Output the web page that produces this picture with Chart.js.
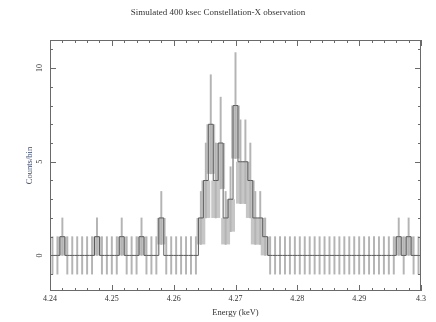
<!DOCTYPE html>
<html>
<head>
<meta charset="utf-8">
<script src="https://cdn.jsdelivr.net/npm/chart.js@4.4.0/dist/chart.umd.min.js"></script>
<style>
  body { margin: 0; background: #fff; }
  canvas { display: block; }
</style>
</head>
<body>
<canvas id="spectrum" width="436" height="322"></canvas>
<script>
// bin centres (keV), 0.8 eV bins
const energies = [
  4.2404, 4.2412, 4.2420, 4.2428, 4.2436, 4.2444, 4.2452, 4.2460, 4.2468, 4.2476,
  4.2484, 4.2492, 4.2500, 4.2508, 4.2516, 4.2524, 4.2532, 4.2540, 4.2548, 4.2556,
  4.2564, 4.2572, 4.2580, 4.2588, 4.2596, 4.2604, 4.2612, 4.2620, 4.2628, 4.2636,
  4.2644, 4.2652, 4.2660, 4.2668, 4.2676, 4.2684, 4.2692, 4.2700, 4.2708, 4.2716,
  4.2724, 4.2732, 4.2740, 4.2748, 4.2756, 4.2764, 4.2772, 4.2780, 4.2788, 4.2796,
  4.2804, 4.2812, 4.2820, 4.2828, 4.2836, 4.2844, 4.2852, 4.2860, 4.2868, 4.2876,
  4.2884, 4.2892, 4.2900, 4.2908, 4.2916, 4.2924, 4.2932, 4.2940, 4.2948, 4.2956,
  4.2964, 4.2972, 4.2980, 4.2988, 4.2996
];
// counts per bin
const counts = [
  0, 0, 1, 0, 0, 0, 0, 0, 0, 1,
  0, 0, 0, 0, 1, 0, 0, 0, 1, 0,
  0, 0, 2, 0, 0, 0, 0, 0, 0, 0,
  2, 4, 7, 4, 6, 2, 3, 8, 5, 5,
  4, 2, 2, 1, 0, 0, 0, 0, 0, 0,
  0, 0, 0, 0, 0, 0, 0, 0, 0, 0,
  0, 0, 0, 0, 0, 0, 0, 0, 0, 0,
  1, 0, 1, 0, 0
];
const xTicks = [4.24, 4.25, 4.26, 4.27, 4.28, 4.29, 4.30];
const xTickLabels = ['4.24', '4.25', '4.26', '4.27', '4.28', '4.29', '4.3'];
const yTicks = [0, 5, 10];
const yTickLabels = ['0', '5', '10'];

// poisson errors, empty bins get +/-1
const sigma = counts.map(n => n > 0 ? Math.sqrt(n) : 1);

const serif = '"Liberation Serif", "DejaVu Serif", serif';

const frame = {
  id: 'frame',
  afterDatasetsDraw(chart) {
    const { ctx, chartArea: a, scales: { x, y } } = chart;
    ctx.save();
    ctx.strokeStyle = '#6a6a6a';
    ctx.lineWidth = 1;
    ctx.strokeRect(a.left + 0.5, a.top + 0.5, a.width - 1, a.height - 1);

    ctx.beginPath();
    // x ticks, top and bottom, minor every 2 eV
    for (let k = 0; k <= 30; k++) {
      const px = Math.round(x.getPixelForValue(4.24 + k * 0.002)) + 0.5;
      const len = k % 5 === 0 ? 6 : 3;
      ctx.moveTo(px, a.bottom); ctx.lineTo(px, a.bottom - len);
      ctx.moveTo(px, a.top); ctx.lineTo(px, a.top + len);
    }
    // y ticks, left and right, minor every count
    for (let v = -1; v <= 11; v++) {
      const py = Math.round(y.getPixelForValue(v)) + 0.5;
      const len = v % 5 === 0 ? 6 : 3;
      ctx.moveTo(a.left, py); ctx.lineTo(a.left + len, py);
      ctx.moveTo(a.right, py); ctx.lineTo(a.right - len, py);
    }
    ctx.stroke();

    ctx.fillStyle = '#333';
    ctx.font = '8px ' + serif;
    ctx.textAlign = 'center';
    ctx.textBaseline = 'middle';
    xTicks.forEach((v, i) => {
      ctx.fillText(xTickLabels[i], x.getPixelForValue(v), a.bottom + 8);
    });
    yTicks.forEach((v, i) => {
      ctx.save();
      ctx.translate(a.left - 10, y.getPixelForValue(v));
      ctx.rotate(-Math.PI / 2);
      ctx.fillText(yTickLabels[i], 0, 0);
      ctx.restore();
    });

    ctx.font = '8.5px ' + serif;
    ctx.fillText('Energy (keV)', (a.left + a.right) / 2, a.bottom + 22);
    ctx.font = '9px ' + serif;
    ctx.fillText('Simulated 400 ksec Constellation-X observation', 218, 13);

    ctx.font = '8.5px ' + serif;
    ctx.fillStyle = '#3e4c6e';
    ctx.save();
    ctx.translate(a.left - 20, (a.top + a.bottom) / 2);
    ctx.rotate(-Math.PI / 2);
    ctx.fillText('Counts/bin', 0, 0);
    ctx.restore();
    ctx.restore();
  }
};

new Chart(document.getElementById('spectrum'), {
  type: 'bar',
  data: {
    datasets: [
      {
        // shaded lower half of each error bar
        type: 'bar',
        data: energies.map((e, i) => ({ x: e, y: counts[i] > 0 ? [counts[i] - sigma[i], counts[i]] : null })),
        backgroundColor: '#c6c6c6',
        borderWidth: 0,
        barPercentage: 1.8,
        categoryPercentage: 1,
        grouped: false,
        order: 3
      },
      {
        type: 'bar',
        data: energies.map((e, i) => ({ x: e, y: [counts[i] - sigma[i], counts[i] + sigma[i]] })),
        backgroundColor: '#b4b4b4',
        borderWidth: 0,
        barThickness: 1.3,
        grouped: false,
        order: 2
      },
      {
        type: 'line',
        data: energies.map((e, i) => ({ x: e, y: counts[i] })),
        stepped: 'middle',
        borderColor: '#5a5a5a',
        borderWidth: 1,
        pointRadius: 0,
        fill: false,
        order: 1
      }
    ]
  },
  options: {
    responsive: false,
    animation: false,
    layout: { padding: { left: 50, right: 15, top: 40, bottom: 31 } },
    scales: {
      x: { type: 'linear', min: 4.24, max: 4.30, offset: false, display: false },
      y: { type: 'linear', min: -1.9, max: 11.5, display: false }
    },
    plugins: { legend: { display: false }, tooltip: { enabled: false } }
  },
  plugins: [frame]
});
</script>
</body>
</html>
